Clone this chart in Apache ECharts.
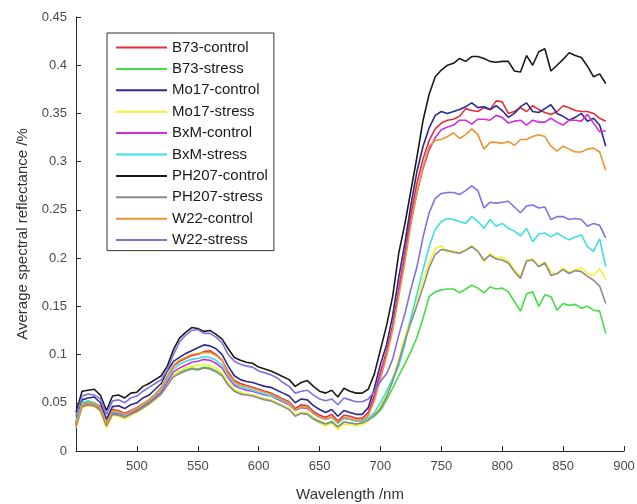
<!DOCTYPE html>
<html>
<head>
<meta charset="utf-8">
<script src="https://cdn.jsdelivr.net/npm/echarts@6/dist/echarts.min.js"></script>
<style>
  html, body { margin: 0; padding: 0; background: #fff; }
  #chart { width: 637px; height: 504px; }
</style>
</head>
<body>
<div id="chart"></div>
<script>
// wavelength grid (nm), 5 nm steps
const wavelength = [450,455,460,465,470,475,480,485,490,495,500,505,510,515,520,525,530,535,540,545,550,555,560,565,570,575,580,585,590,595,600,605,610,615,620,625,630,635,640,645,650,655,660,665,670,675,680,685,690,695,700,705,710,715,720,725,730,735,740,745,750,755,760,765,770,775,780,785,790,795,800,805,810,815,820,825,830,835,840,845,850,855,860,865,870,875,880,885];

const b73Control = [0.028,0.050,0.051,0.050,0.046,0.030,0.043,0.042,0.039,0.042,0.045,0.049,0.053,0.058,0.064,0.076,0.088,0.093,0.096,0.099,0.100,0.103,0.104,0.100,0.094,0.082,0.073,0.070,0.068,0.066,0.064,0.062,0.060,0.057,0.054,0.051,0.044,0.048,0.047,0.041,0.037,0.035,0.038,0.031,0.037,0.036,0.034,0.034,0.040,0.058,0.082,0.103,0.130,0.168,0.205,0.245,0.278,0.303,0.322,0.334,0.340,0.343,0.344,0.347,0.355,0.353,0.352,0.356,0.354,0.363,0.362,0.350,0.352,0.356,0.352,0.358,0.354,0.351,0.349,0.352,0.358,0.356,0.353,0.352,0.352,0.350,0.345,0.342];
const b73Stress = [0.026,0.047,0.049,0.048,0.043,0.027,0.039,0.038,0.036,0.040,0.043,0.047,0.051,0.056,0.061,0.070,0.079,0.082,0.084,0.086,0.085,0.087,0.086,0.083,0.079,0.070,0.063,0.060,0.059,0.058,0.056,0.054,0.053,0.050,0.047,0.044,0.037,0.040,0.039,0.034,0.031,0.028,0.031,0.025,0.030,0.029,0.028,0.029,0.032,0.036,0.042,0.053,0.065,0.078,0.090,0.103,0.118,0.138,0.160,0.165,0.167,0.168,0.168,0.164,0.168,0.172,0.169,0.164,0.170,0.168,0.169,0.165,0.155,0.145,0.163,0.165,0.150,0.162,0.160,0.146,0.153,0.151,0.152,0.148,0.150,0.146,0.145,0.122];
const mo17Control = [0.030,0.053,0.055,0.056,0.050,0.033,0.046,0.047,0.044,0.048,0.050,0.055,0.058,0.064,0.070,0.083,0.093,0.097,0.101,0.104,0.107,0.110,0.109,0.106,0.100,0.088,0.078,0.074,0.072,0.071,0.069,0.067,0.066,0.063,0.060,0.057,0.050,0.054,0.053,0.047,0.043,0.040,0.043,0.036,0.042,0.040,0.038,0.038,0.045,0.065,0.090,0.110,0.140,0.180,0.215,0.255,0.290,0.316,0.335,0.348,0.352,0.350,0.352,0.354,0.357,0.361,0.356,0.357,0.354,0.358,0.353,0.346,0.350,0.357,0.361,0.352,0.351,0.355,0.359,0.350,0.347,0.343,0.346,0.350,0.342,0.345,0.338,0.316];
const mo17Stress = [0.024,0.045,0.047,0.046,0.041,0.024,0.037,0.036,0.033,0.037,0.040,0.044,0.048,0.053,0.059,0.069,0.079,0.083,0.086,0.088,0.089,0.090,0.089,0.086,0.081,0.071,0.064,0.061,0.059,0.058,0.056,0.054,0.053,0.050,0.047,0.044,0.037,0.040,0.039,0.033,0.029,0.026,0.029,0.022,0.028,0.027,0.026,0.027,0.031,0.038,0.046,0.058,0.075,0.095,0.118,0.138,0.158,0.178,0.195,0.210,0.213,0.206,0.208,0.205,0.209,0.213,0.207,0.196,0.205,0.200,0.201,0.197,0.188,0.181,0.198,0.199,0.192,0.196,0.186,0.183,0.190,0.185,0.188,0.190,0.184,0.182,0.189,0.178];
const bxmControl = [0.027,0.047,0.048,0.047,0.043,0.027,0.040,0.039,0.036,0.039,0.042,0.046,0.050,0.055,0.061,0.072,0.082,0.086,0.089,0.092,0.093,0.095,0.094,0.091,0.086,0.076,0.068,0.065,0.063,0.062,0.060,0.058,0.057,0.054,0.051,0.048,0.042,0.045,0.044,0.039,0.035,0.033,0.035,0.029,0.034,0.033,0.031,0.031,0.037,0.055,0.080,0.100,0.128,0.165,0.200,0.238,0.268,0.293,0.312,0.325,0.333,0.336,0.338,0.343,0.343,0.339,0.344,0.344,0.343,0.348,0.346,0.340,0.342,0.343,0.338,0.343,0.341,0.341,0.345,0.341,0.338,0.343,0.343,0.342,0.349,0.340,0.331,0.332];
const bxmStress = [0.030,0.050,0.052,0.050,0.045,0.029,0.041,0.040,0.037,0.041,0.044,0.048,0.053,0.058,0.064,0.075,0.085,0.090,0.093,0.095,0.096,0.098,0.097,0.094,0.089,0.078,0.070,0.066,0.065,0.063,0.061,0.059,0.057,0.055,0.052,0.049,0.042,0.046,0.045,0.039,0.035,0.033,0.035,0.029,0.034,0.033,0.031,0.031,0.034,0.040,0.050,0.062,0.075,0.088,0.110,0.138,0.163,0.188,0.212,0.230,0.238,0.241,0.240,0.238,0.236,0.243,0.238,0.231,0.240,0.233,0.236,0.231,0.228,0.223,0.231,0.217,0.225,0.226,0.222,0.226,0.222,0.219,0.222,0.224,0.212,0.207,0.220,0.191];
const ph207Control = [0.040,0.062,0.063,0.064,0.058,0.042,0.057,0.058,0.055,0.060,0.061,0.067,0.070,0.074,0.078,0.088,0.105,0.117,0.123,0.128,0.127,0.124,0.125,0.121,0.116,0.106,0.097,0.094,0.092,0.091,0.087,0.085,0.083,0.080,0.077,0.074,0.067,0.071,0.073,0.067,0.062,0.060,0.063,0.056,0.065,0.062,0.060,0.060,0.064,0.080,0.105,0.130,0.160,0.205,0.235,0.270,0.305,0.343,0.370,0.388,0.395,0.400,0.402,0.407,0.404,0.409,0.409,0.407,0.404,0.403,0.404,0.404,0.394,0.393,0.410,0.400,0.414,0.417,0.394,0.400,0.406,0.413,0.410,0.408,0.399,0.388,0.391,0.381];
const ph207Stress = [0.025,0.046,0.048,0.047,0.042,0.026,0.038,0.037,0.035,0.038,0.041,0.045,0.049,0.054,0.059,0.068,0.077,0.080,0.083,0.085,0.084,0.086,0.085,0.082,0.078,0.068,0.062,0.059,0.058,0.057,0.055,0.053,0.052,0.049,0.046,0.043,0.036,0.039,0.038,0.033,0.030,0.028,0.030,0.025,0.030,0.029,0.028,0.029,0.032,0.037,0.044,0.056,0.072,0.092,0.114,0.133,0.151,0.170,0.190,0.204,0.209,0.208,0.206,0.205,0.208,0.212,0.207,0.198,0.203,0.199,0.198,0.195,0.186,0.179,0.197,0.198,0.191,0.195,0.182,0.184,0.188,0.184,0.187,0.186,0.181,0.177,0.171,0.153];
const w22Control = [0.026,0.048,0.050,0.049,0.045,0.028,0.042,0.041,0.038,0.041,0.044,0.049,0.053,0.059,0.066,0.078,0.089,0.094,0.097,0.100,0.101,0.102,0.102,0.099,0.094,0.080,0.072,0.068,0.067,0.065,0.063,0.061,0.059,0.056,0.053,0.050,0.042,0.046,0.045,0.039,0.035,0.033,0.036,0.029,0.035,0.034,0.032,0.032,0.037,0.052,0.075,0.098,0.125,0.160,0.195,0.235,0.268,0.295,0.316,0.322,0.323,0.326,0.330,0.324,0.328,0.334,0.328,0.313,0.320,0.320,0.319,0.321,0.317,0.323,0.323,0.326,0.328,0.326,0.316,0.311,0.316,0.313,0.310,0.310,0.313,0.314,0.310,0.291];
const w22Stress = [0.036,0.057,0.059,0.058,0.054,0.038,0.052,0.053,0.050,0.055,0.057,0.062,0.066,0.070,0.074,0.084,0.100,0.113,0.120,0.125,0.126,0.122,0.122,0.118,0.112,0.100,0.093,0.090,0.088,0.087,0.083,0.081,0.079,0.076,0.071,0.067,0.060,0.062,0.063,0.058,0.054,0.052,0.054,0.048,0.055,0.053,0.051,0.051,0.054,0.062,0.072,0.080,0.095,0.120,0.142,0.168,0.191,0.222,0.247,0.262,0.267,0.268,0.268,0.266,0.270,0.275,0.270,0.252,0.258,0.257,0.258,0.259,0.253,0.247,0.254,0.255,0.252,0.253,0.240,0.243,0.243,0.240,0.241,0.240,0.233,0.236,0.234,0.221];

const seriesNames = ['B73-control','B73-stress','Mo17-control','Mo17-stress','BxM-control','BxM-stress','PH207-control','PH207-stress','W22-control','W22-stress'];
const seriesValues = [b73Control,b73Stress,mo17Control,mo17Stress,bxmControl,bxmStress,ph207Control,ph207Stress,w22Control,w22Stress];

const colors = ['#e2303a','#44dd44','#2a2a8c','#f2f230','#d22fd6','#3fe0e0','#1a1a1a','#8c8c8c','#ea9436','#8070e0'];
const axisColor = '#262626';
const labelColor = '#4a4a4a';
const fontFamily = '"Liberation Sans", Arial, sans-serif';

let myChart = echarts.init(document.getElementById('chart'));

let series = seriesNames.map(function (name, k) {
    return {
        name: name,
        type: 'line',
        symbol: 'none',
        smooth: false,
        animation: false,
        lineStyle: { width: 1.6, color: colors[k] },
        itemStyle: { color: colors[k] },
        data: wavelength.map(function (w, i) { return [w, seriesValues[k][i]]; })
    };
});

myChart.setOption({
    backgroundColor: '#fff',
    animation: false,
    textStyle: { fontFamily: fontFamily },
    // fixed plot box, don't let echarts shrink it for labels
    grid: { left: 76, right: 13, top: 17, bottom: 53, outerBoundsMode: 'none', containLabel: false },
    legend: {
        orient: 'vertical',
        left: 107,
        top: 33,
        padding: [7, 6, 3, 9],
        icon: 'rect',
        itemWidth: 51,
        itemHeight: 2,
        itemGap: 6.4,
        borderColor: '#333',
        borderWidth: 1,
        backgroundColor: '#fff',
        data: seriesNames,
        textStyle: { color: '#1a1a1a', fontSize: 15, lineHeight: 15, fontFamily: fontFamily }
    },
    xAxis: {
        type: 'value',
        min: 450,
        max: 900,
        interval: 50,
        name: 'Wavelength /nm',
        nameLocation: 'middle',
        nameGap: 36,
        nameTextStyle: { color: '#333', fontSize: 15, fontFamily: fontFamily },
        axisLine: { lineStyle: { color: axisColor, width: 1 } },
        axisTick: { inside: true, length: 5, lineStyle: { color: axisColor } },
        splitLine: { show: false },
        axisLabel: {
            color: labelColor,
            fontSize: 13,
            margin: 9,
            formatter: function (v) { return v === 450 ? '' : v; }
        }
    },
    yAxis: {
        type: 'value',
        min: 0,
        max: 0.45,
        interval: 0.05,
        name: 'Average spectral reflectance /%',
        nameLocation: 'middle',
        nameGap: 46,
        nameTextStyle: { color: '#333', fontSize: 15, fontFamily: fontFamily },
        axisLine: { show: true, lineStyle: { color: axisColor, width: 1 } },
        axisTick: { show: true, inside: true, length: 5, lineStyle: { color: axisColor } },
        splitLine: { show: false },
        axisLabel: {
            color: labelColor,
            fontSize: 13,
            margin: 9,
            formatter: function (v) { return String(+v.toFixed(2)); }
        }
    },
    series: series
});
</script>
</body>
</html>
